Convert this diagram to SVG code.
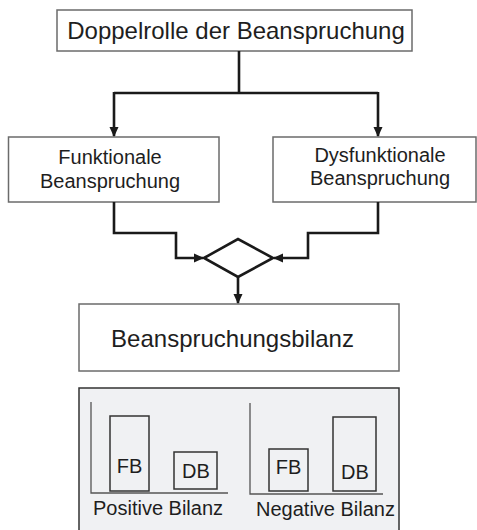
<svg xmlns="http://www.w3.org/2000/svg" width="477" height="530" viewBox="0 0 477 530">
<defs>
<marker id="ah" markerWidth="10" markerHeight="10" refX="9" refY="5" orient="auto" markerUnits="userSpaceOnUse">
<path d="M0,0.5 L10,5 L0,9.5 Z" fill="#1a1a1a"/>
</marker>
<style>
.box{fill:#fff;stroke:#6b6b6b;stroke-width:1.5}
.t{font-family:"Liberation Sans",Arial,sans-serif;fill:#1e1e1e;text-anchor:middle}
.c{fill:none;stroke:#1a1a1a;stroke-width:2.6}
.ln{fill:none;stroke:#555;stroke-width:1.3}
.bar{fill:none;stroke:#333;stroke-width:1.5}
</style>
</defs>
<g id="top">
<rect class="box" x="57" y="10" width="355" height="41"/>
<text class="t" x="236" y="39" font-size="24">Doppelrolle der Beanspruchung</text>
</g>
<g id="funk">
<rect class="box" x="8.5" y="137" width="210.5" height="65"/>
<text class="t" x="110" y="164" font-size="20">Funktionale</text>
<text class="t" x="110" y="188" font-size="20">Beanspruchung</text>
</g>
<g id="dysfunk">
<rect class="box" x="273" y="137" width="203" height="65"/>
<text class="t" x="380" y="162" font-size="20">Dysfunktionale</text>
<text class="t" x="380" y="185" font-size="20">Beanspruchung</text>
</g>
<g id="merge">
<polygon points="204,258 238,239 273,258 238,277" fill="#fff" stroke="#1a1a1a" stroke-width="2.6" stroke-linejoin="miter"/>
</g>
<g id="bilanz">
<rect class="box" x="79" y="304" width="320" height="67"/>
<text class="t" x="232.5" y="347" font-size="24">Beanspruchungsbilanz</text>
</g>
<g id="chart">
<rect x="79" y="388" width="320" height="150" fill="#f0f1f3" stroke="#333" stroke-width="1.5"/>
<polyline class="ln" points="91,402 91,493 228,493"/>
<rect class="bar" x="110" y="416" width="39" height="75"/>
<text class="t" x="129.5" y="473" font-size="20">FB</text>
<rect class="bar" x="174" y="452" width="43" height="37"/>
<text class="t" x="196" y="478" font-size="20">DB</text>
<text class="t" x="158" y="515" font-size="20">Positive Bilanz</text>
<polyline class="ln" points="250,403 250,494 383,494"/>
<rect class="bar" x="269" y="449" width="39" height="42"/>
<text class="t" x="288.5" y="474" font-size="20">FB</text>
<rect class="bar" x="333" y="417" width="43" height="74"/>
<text class="t" x="355" y="479" font-size="20">DB</text>
<text class="t" x="325.5" y="516" font-size="20">Negative Bilanz</text>
</g>
<g id="connectors">
<path class="c" d="M239,51 V93"/>
<path class="c" d="M114,93 H378"/>
<path class="c" d="M114,92 V136" marker-end="url(#ah)"/>
<path class="c" d="M378,92 V136" marker-end="url(#ah)"/>
<path class="c" d="M114,202 V233 H176 V258 H203" marker-end="url(#ah)"/>
<path class="c" d="M378,202 V233 H308 V258 H274" marker-end="url(#ah)"/>
<path class="c" d="M238,277 V303" marker-end="url(#ah)"/>
</g>
</svg>
